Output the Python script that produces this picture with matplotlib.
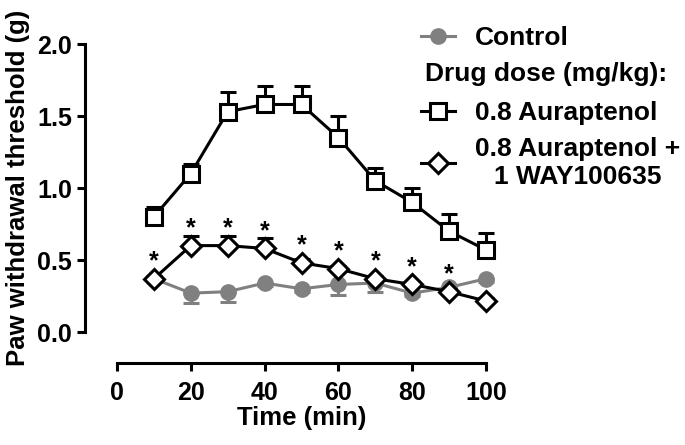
import matplotlib
matplotlib.use('Agg')
import matplotlib.pyplot as plt
from matplotlib.lines import Line2D

# data
time = [10, 20, 30, 40, 50, 60, 70, 80, 90, 100]

control = [0.37, 0.27, 0.28, 0.34, 0.30, 0.33, 0.34, 0.27, 0.31, 0.37]
control_err = [0.02, 0.07, 0.07, 0.02, 0.02, 0.07, 0.06, 0.02, 0.02, 0.02]

aur = [0.80, 1.10, 1.53, 1.58, 1.58, 1.35, 1.05, 0.90, 0.70, 0.57]
aur_err = [0.07, 0.07, 0.14, 0.13, 0.13, 0.15, 0.09, 0.10, 0.12, 0.12]

aur_way = [0.37, 0.60, 0.60, 0.58, 0.48, 0.44, 0.37, 0.33, 0.28, 0.215]
aur_way_err = [0.02, 0.07, 0.07, 0.07, 0.03, 0.02, 0.02, 0.02, 0.02, 0.02]

stars = [True, True, True, True, True, True, True, True, True, False]

plt.rcParams['font.family'] = ['Liberation Sans', 'DejaVu Sans']
plt.rcParams['font.weight'] = 'bold'

gray = '#808080'
fig = plt.figure(figsize=(6.85, 4.45), dpi=100)
ax = fig.add_axes([117/685, 1 - 332/445, 369/685, 288/445])

zeros = [0] * len(time)
kw = dict(lw=2.2, capsize=6, capthick=2.2, elinewidth=2.2, clip_on=False)
ax.errorbar(time, control, yerr=[control_err, zeros], color=gray,
            marker='o', ms=11, mfc=gray, mec=gray, zorder=2, **kw)
ax.errorbar(time, aur, yerr=[zeros, aur_err], color='black',
            marker='s', ms=11, mfc='white', mec='black', mew=2.2, zorder=3, **kw)
ax.errorbar(time, aur_way, yerr=[zeros, aur_way_err], color='black',
            marker='D', ms=10, mfc='white', mec='black', mew=2.2, zorder=4, **kw)

for t, v, s in zip(time, aur_way, stars):
    if s:
        ax.annotate('*', xy=(t, v), xytext=(0, 4), textcoords='offset points',
                    ha='center', va='bottom', fontsize=18, fontweight='bold')

ax.set_xlim(0, 100)
ax.set_ylim(0, 2.0)
ax.set_xticks([0, 20, 40, 60, 80, 100])
ax.set_yticks([0, 0.5, 1.0, 1.5, 2.0])
ax.set_yticklabels(['0.0', '0.5', '1.0', '1.5', '2.0'])
for sp in ['top', 'right']:
    ax.spines[sp].set_visible(False)
ax.spines['left'].set_position(('outward', 23))
ax.spines['bottom'].set_position(('outward', 22.5))
ax.spines['left'].set_linewidth(2.2)
ax.spines['bottom'].set_linewidth(2.2)
ax.tick_params(width=2.2, length=5.5, labelsize=18, pad=4)
ax.tick_params(axis='x', pad=7)
for lab in ax.get_xticklabels() + ax.get_yticklabels():
    lab.set_fontweight('bold')
ax.set_xlabel('Time (min)', fontsize=18.5, fontweight='bold', labelpad=1)
ax.set_ylabel('Paw withdrawal threshold (g)', fontsize=18.5, fontweight='bold', labelpad=5)

# legend
lfs = 19
h_ctrl = Line2D([], [], color=gray, lw=2.2, marker='o', ms=11, mfc=gray, mec=gray)
leg1 = fig.legend([h_ctrl], ['Control'], loc='center left',
                  bbox_to_anchor=(421/685, 1 - 38/445), frameon=False,
                  fontsize=lfs, handlelength=1.3, handletextpad=0.75,
                  borderaxespad=0, borderpad=0)
fig.text(425/685, 1 - 74/445, 'Drug dose (mg/kg):', fontsize=lfs,
         fontweight='bold', ha='left', va='center')
h_aur = Line2D([], [], color='black', lw=2.2, marker='s', ms=11, mfc='white',
               mec='black', mew=2.2)
h_way = Line2D([], [], color='black', lw=2.2, marker='D', ms=10, mfc='white',
               mec='black', mew=2.2)
leg2 = fig.legend([h_aur, h_way], ['0.8 Auraptenol', '0.8 Auraptenol +\n1 WAY100635'],
                  loc='upper left', bbox_to_anchor=(421/685, 1 - 101/445),
                  frameon=False, fontsize=lfs, handlelength=1.3,
                  handletextpad=0.75, labelspacing=0.45,
                  borderaxespad=0, borderpad=0)
for t in leg2.get_texts():
    t.set_multialignment('center')
    t.set_linespacing(1.2)

fig.savefig('out.png', dpi=100)
